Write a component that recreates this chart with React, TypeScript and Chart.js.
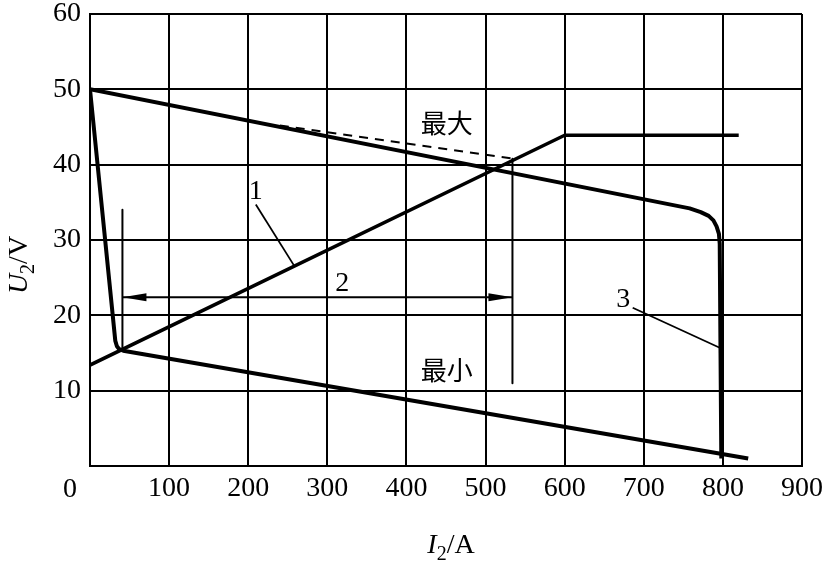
import React, { useEffect, useRef } from "react";
import { Chart, registerables } from "chart.js";

Chart.register(...registerables);

// ---- data (I2 in A, U2 in V) ----
const xTicks = [0, 100, 200, 300, 400, 500, 600, 700, 800, 900];
const yTicks = [0, 10, 20, 30, 40, 50, 60];

// "最大" external characteristic (upper), with steep drop near 800 A (curve 3)
const upperI = [0, 758, 772, 782, 788, 792, 795, 796, 797, 798];
const upperU = [50, 34.2, 33.7, 33.2, 32.6, 31.8, 30.8, 29.5, 15, 1.0];

// dashed variant of the upper characteristic
const dashI = [240, 535];
const dashU = [45.2, 40.8];

// "最小" characteristic (lower)
const lowerI = [0, 32, 34, 37, 42, 832];
const lowerU = [50, 16.6, 15.9, 15.5, 15.3, 1.0];

// curve 1: load line
const rampI = [0, 600, 820];
const rampU = [13.4, 43.9, 43.9];

// range markers (2)
const markLeftI = [41, 41];
const markLeftU = [34, 15.3];
const markRightI = [534, 534];
const markRightU = [40.8, 11];
const arrowI = [41, 534];
const arrowU = [22.4, 22.4];

// leader lines
const leader1I = [209.6, 258];
const leader1U = [34.7, 26.6];
const leader3I = [686, 796];
const leader3U = [21.0, 15.7];

// text labels [I, U, text]
const labelTexts = ["1", "2", "3", "最大", "最小"];
const labelI = [209.6, 319, 674, 451, 451];
const labelU = [36.4, 24.2, 22.1, 45.5, 12.7];

const pts = (xs: number[], ys: number[]) => xs.map((x, i) => ({ x, y: ys[i] }));

const SERIF = '"Liberation Serif", "Times New Roman", serif';

const overlay = {
  id: "overlay",
  afterDatasetsDraw(chart: any) {
    const { ctx, scales, chartArea } = chart;
    const x = scales.x;
    const y = scales.y;
    ctx.save();
    // arrowheads
    const ay = y.getPixelForValue(arrowU[0]);
    const lx = x.getPixelForValue(arrowI[0]);
    const rx = x.getPixelForValue(arrowI[1]);
    ctx.fillStyle = "#000";
    ctx.beginPath();
    ctx.moveTo(lx, ay);
    ctx.lineTo(lx + 24, ay - 4);
    ctx.lineTo(lx + 24, ay + 4);
    ctx.closePath();
    ctx.fill();
    ctx.beginPath();
    ctx.moveTo(rx, ay);
    ctx.lineTo(rx - 24, ay - 4);
    ctx.lineTo(rx - 24, ay + 4);
    ctx.closePath();
    ctx.fill();

    // labels
    ctx.textAlign = "center";
    ctx.textBaseline = "middle";
    labelTexts.forEach((t, i) => {
      const isCJK = /[^\x00-\x7f]/.test(t);
      ctx.font = isCJK ? '26px "Noto Sans CJK SC"' : `28px ${SERIF}`;
      ctx.fillText(t, x.getPixelForValue(labelI[i]), y.getPixelForValue(labelU[i]));
    });

    // corner zero
    ctx.font = `28px ${SERIF}`;
    ctx.fillText("0", chartArea.left - 20, chartArea.bottom + 24);

    // x title: I2/A
    const cx = 451;
    const ty = 553;
    ctx.textAlign = "left";
    ctx.textBaseline = "alphabetic";
    ctx.font = `italic 28px ${SERIF}`;
    const wI = ctx.measureText("I").width;
    ctx.font = `20px ${SERIF}`;
    const w2 = ctx.measureText("2").width;
    ctx.font = `28px ${SERIF}`;
    const wA = ctx.measureText("/A").width;
    let sx = cx - (wI + w2 + wA) / 2;
    ctx.font = `italic 28px ${SERIF}`;
    ctx.fillText("I", sx, ty);
    sx += wI;
    ctx.font = `20px ${SERIF}`;
    ctx.fillText("2", sx, ty + 7);
    sx += w2;
    ctx.font = `28px ${SERIF}`;
    ctx.fillText("/A", sx, ty);

    // y title: U2/V rotated
    ctx.translate(27, 265);
    ctx.rotate(-Math.PI / 2);
    ctx.font = `italic 28px ${SERIF}`;
    const wU = ctx.measureText("U").width;
    ctx.font = `20px ${SERIF}`;
    const w2b = ctx.measureText("2").width;
    ctx.font = `28px ${SERIF}`;
    const wV = ctx.measureText("/V").width;
    let px = -(wU + w2b + wV) / 2;
    ctx.font = `italic 28px ${SERIF}`;
    ctx.fillText("U", px, 0);
    px += wU;
    ctx.font = `20px ${SERIF}`;
    ctx.fillText("2", px, 7);
    px += w2b;
    ctx.font = `28px ${SERIF}`;
    ctx.fillText("/V", px, 0);
    ctx.restore();
  },
};

export default function App() {
  const ref = useRef<HTMLCanvasElement | null>(null);
  useEffect(() => {
    if (!ref.current) return;
    const line = (xs: number[], ys: number[], w: number, dash: number[] = []) => ({
      data: pts(xs, ys),
      borderColor: "#000",
      backgroundColor: "#000",
      borderWidth: w,
      borderDash: dash,
      pointRadius: 0,
      tension: 0,
      fill: false,
      showLine: true,
      borderCapStyle: "butt",
      borderJoinStyle: "round",
    });
    const chart = new Chart(ref.current, {
      type: "scatter",
      data: {
        datasets: [
          line(upperI, upperU, 4),
          line(dashI, dashU, 1.8, [9, 7]),
          line(lowerI, lowerU, 4),
          line(rampI, rampU, 3.5),
          line(markLeftI, markLeftU, 2),
          line(markRightI, markRightU, 2),
          line(arrowI, arrowU, 1.8),
          line(leader1I, leader1U, 1.8),
          line(leader3I, leader3U, 1.8),
        ] as any,
      },
      options: {
        animation: false,
        responsive: false,
        devicePixelRatio: 1,
        layout: { padding: { left: 0, top: 14, right: 22, bottom: 0 } },
        plugins: { legend: { display: false }, tooltip: { enabled: false } },
        scales: {
          x: {
            type: "linear",
            min: 0,
            max: 900,
            afterBuildTicks: (s: any) => {
              s.ticks = xTicks.map((v) => ({ value: v }));
            },
            afterFit: (s: any) => {
              s.height = 97;
              s.paddingLeft = 0;
              s.paddingRight = 0;
            },
            grid: { color: "#000", lineWidth: 2, drawTicks: false },
            border: { display: true, color: "#000", width: 2 },
            ticks: {
              color: "#000",
              padding: 6,
              font: { family: SERIF, size: 28 },
              callback: (v: any) => (v === 0 ? "" : String(v)),
            },
          },
          y: {
            type: "linear",
            min: 0,
            max: 60,
            afterBuildTicks: (s: any) => {
              s.ticks = yTicks.map((v) => ({ value: v }));
            },
            afterFit: (s: any) => {
              s.width = 90;
              s.paddingTop = 0;
              s.paddingBottom = 0;
            },
            grid: { color: "#000", lineWidth: 2, drawTicks: false },
            border: { display: true, color: "#000", width: 2 },
            ticks: {
              color: "#000",
              padding: 9,
              font: { family: SERIF, size: 28 },
              callback: (v: any) => (v === 0 ? "" : String(v)),
            },
          },
        },
      },
      plugins: [overlay],
    } as any);
    return () => chart.destroy();
  }, []);
  return (
    <div style={{ position: "absolute", left: 0, top: 0, width: 824, height: 563, background: "#fff" }}>
      <canvas ref={ref} width={824} height={563} style={{ display: "block" }} />
    </div>
  );
}
